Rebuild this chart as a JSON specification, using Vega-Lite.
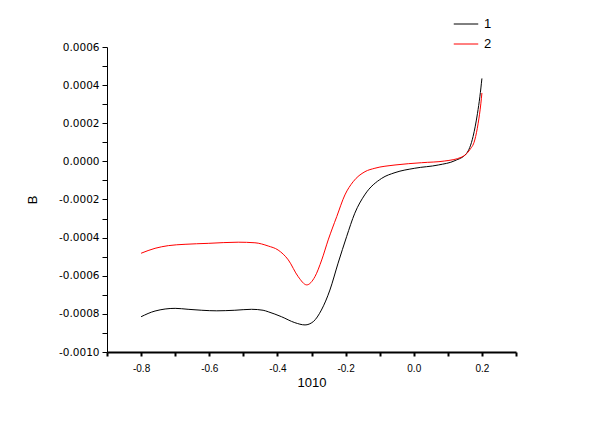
{
  "$schema": "https://vega.github.io/schema/vega-lite/v6.json",
  "width": 409,
  "height": 305,
  "autosize": {"type": "none"},
  "padding": {"left": 107, "top": 47, "right": 84, "bottom": 72},
  "background": "white",
  "config": {
    "view": {"stroke": null},
    "font": "Liberation Sans"
  },
  "data": {
    "values": [
      {"x": -0.8, "B": -0.000815, "s": "1"},
      {"x": -0.759, "B": -0.000785, "s": "1"},
      {"x": -0.70, "B": -0.000771, "s": "1"},
      {"x": -0.662, "B": -0.000776, "s": "1"},
      {"x": -0.622, "B": -0.000781, "s": "1"},
      {"x": -0.578, "B": -0.000784, "s": "1"},
      {"x": -0.525, "B": -0.000781, "s": "1"},
      {"x": -0.476, "B": -0.000776, "s": "1"},
      {"x": -0.442, "B": -0.000781, "s": "1"},
      {"x": -0.427, "B": -0.000789, "s": "1"},
      {"x": -0.388, "B": -0.000815, "s": "1"},
      {"x": -0.349, "B": -0.000846, "s": "1"},
      {"x": -0.319, "B": -0.000858, "s": "1"},
      {"x": -0.295, "B": -0.000841, "s": "1"},
      {"x": -0.271, "B": -0.000780, "s": "1"},
      {"x": -0.246, "B": -0.000675, "s": "1"},
      {"x": -0.222, "B": -0.000534, "s": "1"},
      {"x": -0.197, "B": -0.000395, "s": "1"},
      {"x": -0.173, "B": -0.000272, "s": "1"},
      {"x": -0.144, "B": -0.000176, "s": "1"},
      {"x": -0.094, "B": -0.000089, "s": "1"},
      {"x": -0.055, "B": -0.000059, "s": "1"},
      {"x": 0.003, "B": -0.000036, "s": "1"},
      {"x": 0.072, "B": -0.000019, "s": "1"},
      {"x": 0.121, "B": 0.000004, "s": "1"},
      {"x": 0.155, "B": 0.000042, "s": "1"},
      {"x": 0.174, "B": 0.000130, "s": "1"},
      {"x": 0.187, "B": 0.000252, "s": "1"},
      {"x": 0.194, "B": 0.000339, "s": "1"},
      {"x": 0.2, "B": 0.000435, "s": "1"},
      {"x": -0.8, "B": -0.000482, "s": "2"},
      {"x": -0.759, "B": -0.000456, "s": "2"},
      {"x": -0.720, "B": -0.000442, "s": "2"},
      {"x": -0.671, "B": -0.000435, "s": "2"},
      {"x": -0.603, "B": -0.000430, "s": "2"},
      {"x": -0.515, "B": -0.000424, "s": "2"},
      {"x": -0.466, "B": -0.000427, "s": "2"},
      {"x": -0.427, "B": -0.000444, "s": "2"},
      {"x": -0.398, "B": -0.000465, "s": "2"},
      {"x": -0.368, "B": -0.000517, "s": "2"},
      {"x": -0.339, "B": -0.000605, "s": "2"},
      {"x": -0.314, "B": -0.000648, "s": "2"},
      {"x": -0.290, "B": -0.000605, "s": "2"},
      {"x": -0.270, "B": -0.000517, "s": "2"},
      {"x": -0.251, "B": -0.000412, "s": "2"},
      {"x": -0.226, "B": -0.000290, "s": "2"},
      {"x": -0.202, "B": -0.000176, "s": "2"},
      {"x": -0.178, "B": -0.000107, "s": "2"},
      {"x": -0.143, "B": -0.000054, "s": "2"},
      {"x": -0.114, "B": -0.000036, "s": "2"},
      {"x": -0.055, "B": -0.000019, "s": "2"},
      {"x": 0.023, "B": -0.000007, "s": "2"},
      {"x": 0.091, "B": 0.000002, "s": "2"},
      {"x": 0.140, "B": 0.000022, "s": "2"},
      {"x": 0.164, "B": 0.000060, "s": "2"},
      {"x": 0.179, "B": 0.000112, "s": "2"},
      {"x": 0.189, "B": 0.000200, "s": "2"},
      {"x": 0.197, "B": 0.000305, "s": "2"},
      {"x": 0.2, "B": 0.000359, "s": "2"}
    ]
  },
  "mark": {"type": "line", "strokeWidth": 1, "interpolate": "monotone", "clip": true},
  "encoding": {
    "x": {
      "field": "x",
      "type": "quantitative",
      "scale": {"domain": [-0.9, 0.3], "nice": false, "zero": false},
      "axis": {
        "title": "1010",
        "titleFont": "Liberation Sans",
        "titleFontSize": 13,
        "titleFontWeight": "normal",
        "titleColor": "black",
        "titlePadding": 3,
        "values": [-0.9, -0.8, -0.7, -0.6, -0.5, -0.4, -0.3, -0.2, -0.1, 0, 0.1, 0.2, 0.3],
        "labelExpr": "abs(round(datum.value*10))%2==0 && datum.value>-0.85 && datum.value<0.25 ? replace(format(datum.value,'.1f'),'\u2212','-') : ''",
        "labelFont": "Liberation Sans",
        "labelFontSize": 10,
        "labelColor": "black",
        "labelPadding": 7,
        "labelFlush": false,
        "labelOverlap": false,
        "grid": false,
        "domainColor": "black",
        "domainWidth": 2,
        "tickColor": "black",
        "tickWidth": 2,
        "tickSize": 4
      }
    },
    "y": {
      "field": "B",
      "type": "quantitative",
      "scale": {"domain": [-0.001, 0.0006], "nice": false, "zero": false},
      "axis": {
        "title": "B",
        "titleFont": "Liberation Sans",
        "titleFontSize": 13,
        "titleFontWeight": "normal",
        "titleColor": "black",
        "titlePadding": 19,
        "values": [-0.001, -0.0009, -0.0008, -0.0007, -0.0006, -0.0005, -0.0004, -0.0003, -0.0002, -0.0001, 0, 0.0001, 0.0002, 0.0003, 0.0004, 0.0005, 0.0006],
        "labelExpr": "abs(round(datum.value*10000))%2==0 ? replace(format(datum.value,'.4f'),'\u2212','-') : ''",
        "labelFont": "DejaVu Sans",
        "labelFontSize": 10.5,
        "labelColor": "black",
        "labelPadding": 3,
        "labelFlush": false,
        "labelOverlap": false,
        "grid": false,
        "domainColor": "black",
        "domainWidth": 1,
        "tickColor": "black",
        "tickWidth": 1,
        "tickSize": 5
      }
    },
    "color": {
      "field": "s",
      "type": "nominal",
      "scale": {"domain": ["1", "2"], "range": ["black", "#ff0000"]},
      "legend": {
        "title": null,
        "orient": "none",
        "legendX": 346,
        "legendY": -36,
        "symbolType": "stroke",
        "symbolSize": 600,
        "symbolStrokeWidth": 1,
        "labelFont": "Liberation Sans",
        "labelFontSize": 13,
        "labelColor": "black",
        "labelOffset": 5,
        "rowPadding": 0
      }
    }
  }
}
